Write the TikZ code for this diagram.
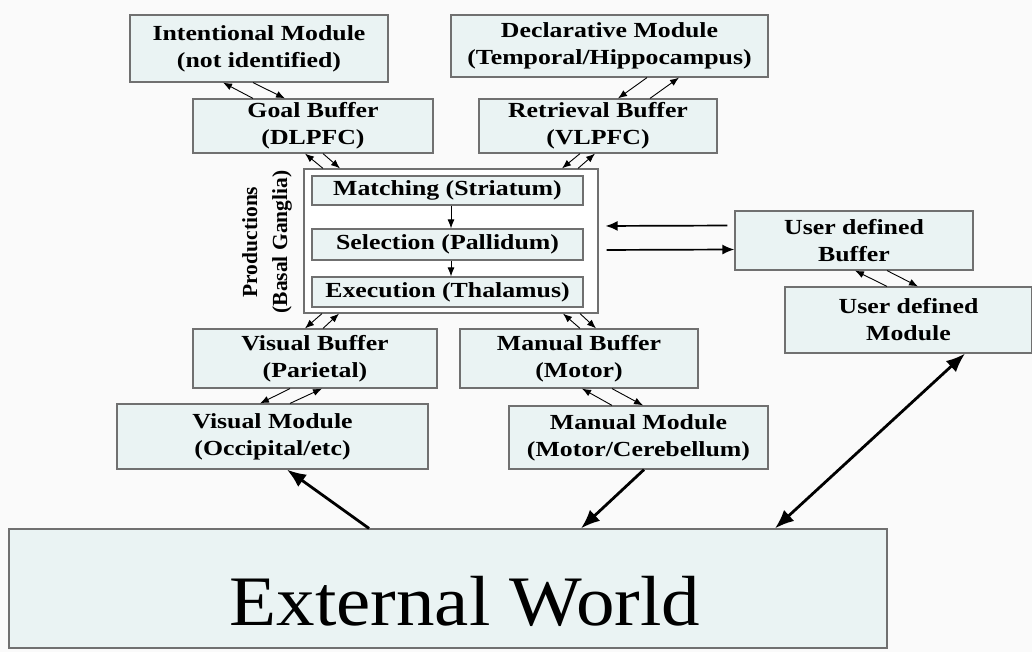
\documentclass[tikz,border=0pt]{standalone}
\usepackage{fontspec}
\setmainfont{Liberation Serif}
\newfontfamily\boxfamily[FakeStretch=1.2]{Liberation Serif}
\newfontfamily\worldfamily[FakeStretch=1.085]{Liberation Serif}
\usetikzlibrary{arrows.meta}
\definecolor{boxfill}{RGB}{234,243,243}
\definecolor{boxline}{RGB}{112,112,112}
\definecolor{paper}{RGB}{250,250,250}
\tikzset{
    box/.style={draw=boxline, fill=boxfill, line width=1.2pt, inner sep=0pt,
        align=center, font=\boxfamily\fontsize{21.5}{27}\bfseries\selectfont},
    dim/.style 2 args={minimum width=#1pt, minimum height=#2pt},
    link/.style={-{Latex[length=9pt,width=7pt]}, line width=0.9pt},
    flow/.style={-{Latex[length=12pt,width=10pt]}, line width=1.7pt},
    bigarrow/.style={-{Latex[length=19pt,width=15pt]}, line width=2.8pt},
    bigboth/.style={{Latex[length=19pt,width=15pt]}-{Latex[length=19pt,width=15pt]}, line width=2.8pt}
}

\begin{document}
\begin{tikzpicture}[x=1pt,y=-1pt]
        \fill[paper] (0,0) rectangle (1032,652);
        \useasboundingbox (0,0) rectangle (1032,652);

        \node[box,dim={258}{67}] (intent) at (259,48.5) {Intentional Module\\(not identified)};
        \node[box,dim={317}{62}] (decl) at (609.5,46) {Declarative Module\\(Temporal/Hippocampus)};
        \node[box,dim={240}{54}] (goal) at (313,126) {Goal Buffer\\(DLPFC)};
        \node[box,dim={238}{54}] (retr) at (598,126) {Retrieval Buffer\\(VLPFC)};
        \node[box,fill=white,dim={294}{144}] (prod) at (451,241) {};
        \node[box,dim={271}{29}] (match) at (447.5,190.5) {Matching (Striatum)};
        \node[box,dim={271}{31}] (select) at (447.5,244.5) {Selection (Pallidum)};
        \node[box,dim={271}{30}] (exec) at (447.5,292) {Execution (Thalamus)};
        \node[rotate=90,align=center,inner sep=0pt,
            font=\fontsize{21.5}{30}\bfseries\selectfont] (prodlabel) at (267,242)
            {Productions\\(Basal Ganglia)};
        \node[box,dim={238}{59}] (ubuf) at (854,240.5) {User defined\\Buffer};
        \node[box,dim={247}{66}] (umod) at (908.5,320) {User defined\\Module};
        \node[box,dim={244}{59}] (vbuf) at (315,358.5) {Visual Buffer\\(Parietal)};
        \node[box,dim={311}{65}] (vmod) at (272.5,436.5) {Visual Module\\(Occipital/etc)};
        \node[box,dim={238}{59}] (mbuf) at (579,358.5) {Manual Buffer\\(Motor)};
        \node[box,dim={259}{63}] (mmod) at (638.5,437.5) {Manual Module\\(Motor/Cerebellum)};
        \node[box,dim={878}{119},text height=73pt,text depth=0pt,
            font=\worldfamily\fontsize{71}{80}\selectfont] (world) at (448,588.5)
            {\hspace*{34pt}External World};

        \draw[link] ([xshift=-60pt]goal.north) -- ([xshift=-36pt]intent.south);
        \draw[link] ([xshift=-6pt]intent.south) -- ([xshift=-28pt]goal.north);
        \draw[link] ([xshift=-128pt]prod.north) -- ([xshift=-8pt]goal.south);
        \draw[link] ([xshift=10pt]goal.south) -- ([xshift=-111pt]prod.north);
        \draw[link] ([xshift=-18pt]retr.south) -- ([xshift=111pt]prod.north);
        \draw[link] ([xshift=127pt]prod.north) -- ([xshift=-3pt]retr.south);
        \draw[link] ([xshift=37.5pt]decl.south) -- ([xshift=20pt]retr.north);
        \draw[link] ([xshift=52pt]retr.north) -- ([xshift=69.5pt]decl.south);
        \draw[link] ([xshift=3.5pt]match.south) -- ([xshift=3.5pt]select.north);
        \draw[link] ([xshift=3.5pt]select.south) -- ([xshift=3.5pt]exec.north);
        \draw[flow,shorten <=7pt,shorten >=7pt] ([yshift=15pt]ubuf.west) -- ([yshift=15pt]prod.east);
        \draw[flow,shorten <=8pt] ([yshift=-9pt]prod.east) -- ([yshift=-9pt]ubuf.west);
        \draw[link] ([xshift=-21.5pt]umod.north) -- ([xshift=1pt]ubuf.south);
        \draw[link] ([xshift=33pt]ubuf.south) -- ([xshift=9.5pt]umod.north);
        \draw[link] ([xshift=-129pt]prod.south) -- ([xshift=-10pt]vbuf.north);
        \draw[link] ([xshift=8pt]vbuf.north) -- ([xshift=-112pt]prod.south);
        \draw[link] ([xshift=-25pt]vbuf.south) -- ([xshift=-12.5pt]vmod.north);
        \draw[link] ([xshift=17.5pt]vmod.north) -- ([xshift=7pt]vbuf.south);
        \draw[link] ([xshift=1pt]mbuf.north) -- ([xshift=112pt]prod.south);
        \draw[link] ([xshift=129pt]prod.south) -- ([xshift=17pt]mbuf.north);
        \draw[link] ([xshift=-26.5pt]mmod.north) -- ([xshift=3pt]mbuf.south);
        \draw[link] ([xshift=33pt]mbuf.south) -- ([xshift=4.5pt]mmod.north);
        \draw[bigarrow] ([xshift=-79pt]world.north) -- ([xshift=14.5pt]vmod.south);
        \draw[bigarrow] ([xshift=5.5pt]mmod.south) -- ([xshift=133pt]world.north);
        \draw[bigboth] ([xshift=327pt]world.north) -- ([xshift=56.5pt]umod.south);
    \end{tikzpicture}
\end{document}
